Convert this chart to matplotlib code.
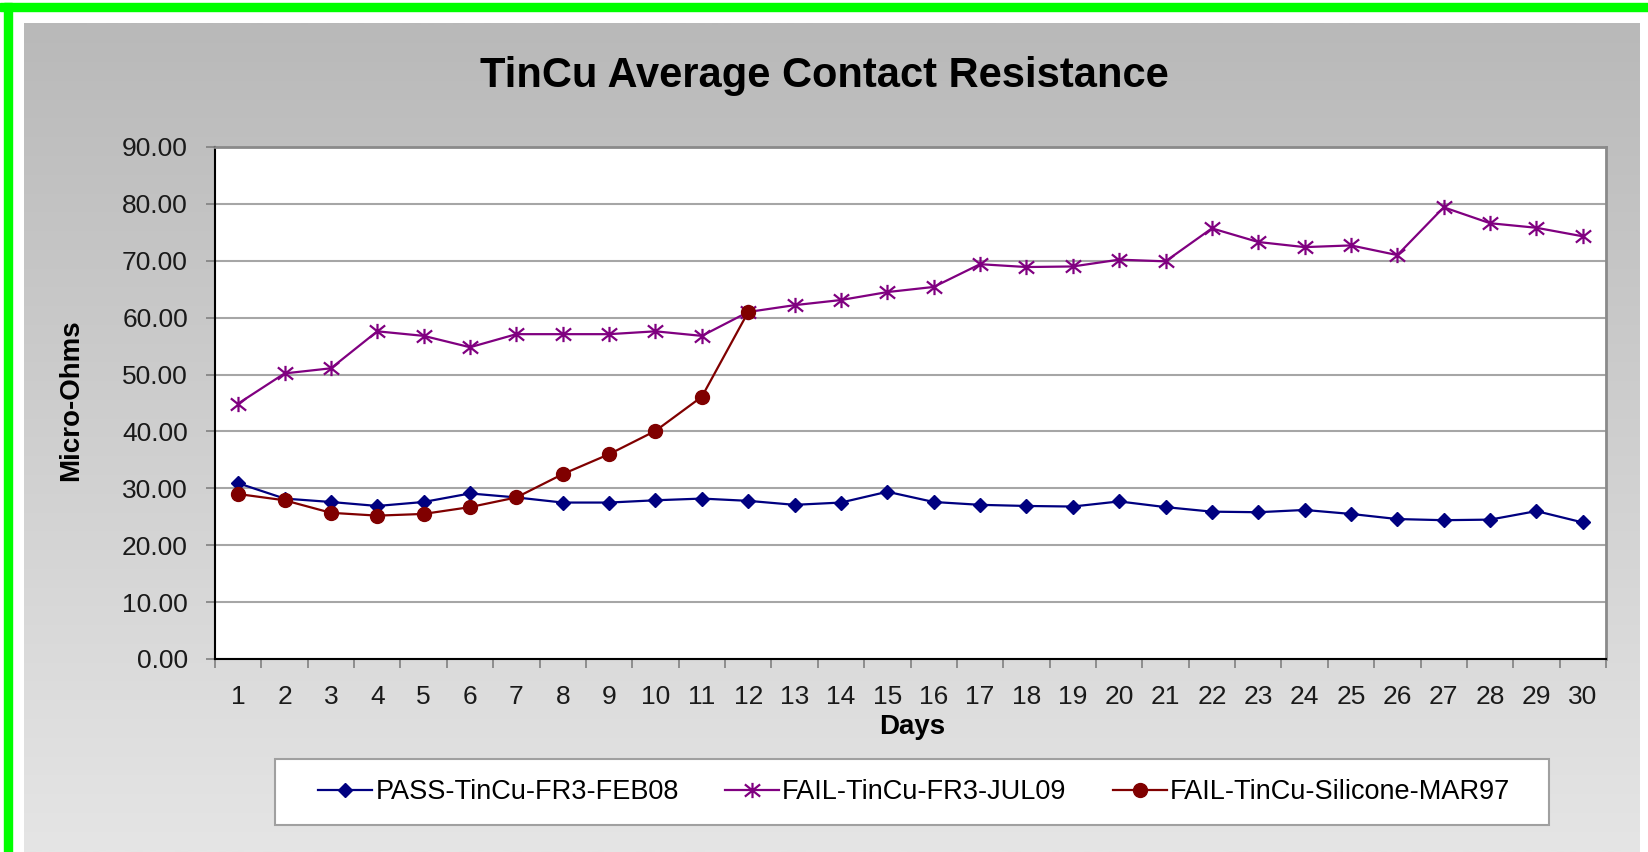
import numpy as np
import matplotlib
matplotlib.use("Agg")
import matplotlib.pyplot as plt
from matplotlib.path import Path
from matplotlib.patches import Rectangle
from matplotlib.ticker import FormatStrFormatter

plt.rcParams['font.family'] = ['Liberation Sans', 'DejaVu Sans']

days = list(range(1, 31))
pass_feb08 = [30.9, 28.2, 27.6, 26.9, 27.6, 29.1, 28.4, 27.5, 27.5, 27.9,
              28.2, 27.8, 27.1, 27.5, 29.4, 27.6, 27.1, 26.9, 26.8, 27.7,
              26.7, 25.9, 25.8, 26.2, 25.5, 24.6, 24.4, 24.5, 26.0, 24.0]
fail_jul09 = [44.9, 50.2, 51.1, 57.6, 56.8, 54.8, 57.1, 57.1, 57.1, 57.6,
              56.8, 61.0, 62.2, 63.1, 64.5, 65.4, 69.4, 68.9, 69.0, 70.2,
              69.9, 75.7, 73.3, 72.4, 72.7, 71.0, 79.4, 76.6, 75.8, 74.3]
fail_mar97 = [29.0, 27.9, 25.7, 25.2, 25.5, 26.7, 28.4, 32.5, 36.0, 40.1,
              46.1, 61.0]
labels = ['PASS-TinCu-FR3-FEB08', 'FAIL-TinCu-FR3-JUL09', 'FAIL-TinCu-Silicone-MAR97']
yticks = [0, 10, 20, 30, 40, 50, 60, 70, 80, 90]

W, H = 1648, 852
fig = plt.figure(figsize=(W / 100, H / 100), dpi=100)
fig.patch.set_facecolor('white')

# gray gradient chart area
bg = fig.add_axes([24 / W, 0, (1640 - 24) / W, (H - 23) / H])
shade = np.linspace(185, 229, 256) / 255.0
grad = np.dstack([shade, shade, shade]).reshape(256, 1, 3)
bg.imshow(grad, aspect='auto', interpolation='bilinear')
bg.axis('off')

# green frame (top and left)
fig.patches.append(Rectangle((0, (H - 11) / H), 1, 8 / H, transform=fig.transFigure,
                             color='#00ff00', zorder=5))
fig.patches.append(Rectangle((4 / W, 0), 8 / W, (H - 3) / H, transform=fig.transFigure,
                             color='#00ff00', zorder=5))

ax = fig.add_axes([215 / W, (H - 659) / H, (1606 - 215) / W, (659 - 147) / H])
ax.set_facecolor('white')

star = Path([(-1, -0.8), (1, 0.8), (-1, 0.8), (1, -0.8), (0, -1), (0, 1)],
            [Path.MOVETO, Path.LINETO] * 3)

ax.plot(days, pass_feb08, color='#000080', lw=1.6, marker='D', ms=7.5,
        label=labels[0], zorder=3)
ax.plot(days, fail_jul09, color='#800080', lw=1.6, marker=star, ms=11, mfc='none',
        mew=1.6, label=labels[1], zorder=3)
ax.plot(days[:len(fail_mar97)], fail_mar97, color='#800000', lw=1.6, marker='o', ms=10,
        label=labels[2], zorder=4)

ax.set_xlim(0.5, 30.5)
ax.set_ylim(0, 90)
ax.set_yticks(yticks)
ax.yaxis.set_major_formatter(FormatStrFormatter('%.2f'))
ax.set_xticks(days)
ax.set_xticks(np.arange(0.5, 31, 1), minor=True)
ax.yaxis.grid(True, color='#a6a6a6', lw=1.5)
ax.set_axisbelow(True)

ax.tick_params(axis='y', length=6.5, width=1.2, color='#808080', pad=13,
               labelsize=19, labelcolor='#1a1a1a')
ax.tick_params(axis='x', which='major', length=0, pad=19, labelsize=19,
               labelcolor='#1a1a1a')
ax.tick_params(axis='x', which='minor', length=6.5, width=1.2, color='#808080')

for s in ['left', 'bottom']:
    ax.spines[s].set_color('black')
    ax.spines[s].set_linewidth(1.5)
for s in ['top', 'right']:
    ax.spines[s].set_color('#8a8a8a')
    ax.spines[s].set_linewidth(2)

fig.text(824 / W, (H - 76) / H, 'TinCu Average Contact Resistance', ha='center',
         va='center', fontsize=30, fontweight='bold')
fig.text(912 / W, (H - 727) / H, 'Days', ha='center', va='center', fontsize=20,
         fontweight='bold')
fig.text(71 / W, (H - 400) / H, 'Micro-Ohms', ha='center', va='center', rotation=90,
         fontsize=20, fontweight='bold')

# legend box
fig.patches.append(Rectangle((275 / W, (H - 825) / H), (1549 - 275) / W, 66 / H,
                             transform=fig.transFigure, facecolor='white',
                             edgecolor='#a0a0a0', lw=1.5, zorder=1))
leg = fig.legend(loc='center', bbox_to_anchor=(914 / W, (H - 792) / H), ncol=3,
                 frameon=False, fontsize=19.5, handlelength=2.0, handletextpad=0.12,
                 columnspacing=1.7)
leg.set_zorder(6)

fig.savefig('out.png', dpi=100)
